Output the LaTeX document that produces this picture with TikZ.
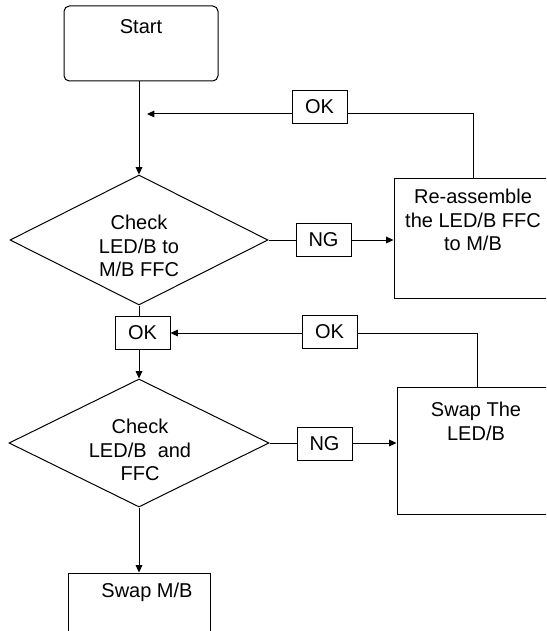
\documentclass[tikz,border=0pt]{standalone}
\usepackage{fontspec}
\setmainfont{Liberation Sans}
\usetikzlibrary{shapes.geometric,arrows.meta}
\begin{document}
\begin{tikzpicture}[x=0.75pt,y=-0.75pt,line width=0.75pt,
  every node/.style={font=\fontsize{15}{17.5}\selectfont},
  box/.style={draw, rectangle, inner sep=0pt},
  dia/.style={draw, diamond, inner sep=0pt},
  lbl/.style={draw, fill=white, rectangle, inner sep=0pt, minimum width=41.25pt, minimum height=24.75pt},
  txt/.style={align=center, inner sep=0pt},
  arr/.style={-{Triangle[length=5.5pt,width=5pt]}}]
\clip (0,0) rectangle (546,631);
% shapes
\node[box, rounded corners=4pt, minimum width=115.5pt, minimum height=56.25pt] (start) at (141,43.5) {};
\node[txt] (starttxt) at (141,27) {Start};
\node[dia, minimum width=193.5pt, minimum height=97.5pt] (d1) at (139,240) {};
\node[txt] (d1txt) at (139,246) {Check\\LED/B to\\M/B FFC};
\node[box, minimum width=118.5pt, minimum height=90pt] (ra) at (473,238) {};
\node[txt] (ratxt) at (473,220) {Re-assemble\\the LED/B FFC\\to M/B};
\node[lbl] (ok2) at (142.5,333) {OK};
\node[dia, minimum width=195pt, minimum height=96pt] (d2) at (139,443) {};
\node[txt] (d2txt) at (140,450) {Check\\LED/B~~and\\FFC};
\node[box, minimum width=120pt, minimum height=95.25pt] (sw) at (477,450.5) {};
\node[txt] (swtxt) at (476,421.5) {Swap The\\LED/B};
\node[box, minimum width=106.5pt, minimum height=80.25pt] (mb) at (139,626.5) {};
\node[txt] (mbtxt) at (147,592) {Swap M/B};
\coordinate (c1) at (147,114);
% connectors
\draw[arr] (start.south -| d1.north) -- (d1.north);
\draw[arr] (d1.east) -- (d1.east -| ra.west);
\draw[arr] (ra.north) |- (c1);
\draw (d1.south) -- (d1.south |- ok2.north);
\draw[arr] (d2.north |- ok2.south) -- (d2.north);
\draw[arr] (d2.east) -- (d2.east -| sw.west);
\draw[arr] (sw.north) |- (ok2.east);
\draw[arr] (d2.south) -- (d2.south |- mb.north);
% labels on connectors
\node[lbl] (ok1) at (319.5,107) {OK};
\node[lbl] (ng1) at (323.5,240) {NG};
\node[lbl] (ok3) at (329.5,332) {OK};
\node[lbl] (ng2) at (324.5,443.5) {NG};
\end{tikzpicture}
\end{document}
